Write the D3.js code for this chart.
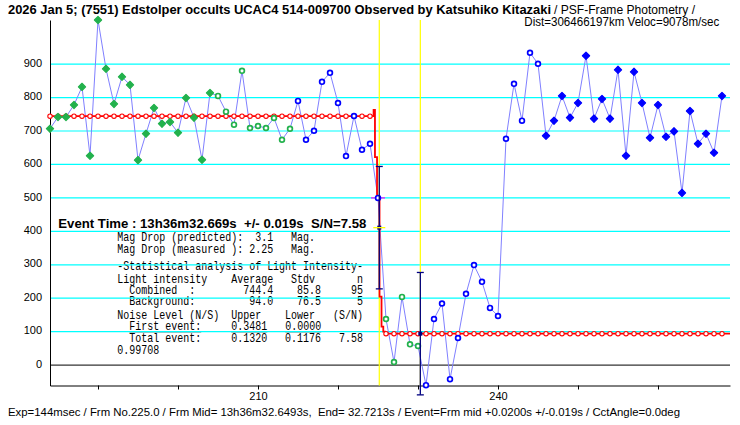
<!DOCTYPE html>
<html>
<head>
<meta charset="utf-8">
<script src="https://cdn.jsdelivr.net/npm/d3@7"></script>
<style>
  body { margin: 0; background: #fff; }
  text { white-space: pre; }
</style>
</head>
<body>
<script>
// light curve, one value per frame starting at firstFrame
const firstFrame = 184;
const flux = [707, 742, 742, 778, 832, 626, 1032, 886, 781, 862,
              838, 613, 692, 769, 722, 727, 695, 799, 740, 614,
              814, 805, 758, 719, 880, 709, 715, 709, 739, 674,
              707, 790, 674, 701, 847, 874, 784, 625, 745, 644,
              662, 500, 138, 9, 204, 62, 57, -60, 138, 184,
              -42, 81, 213, 299, 249, 171, 147, 677, 841, 731,
              934, 901, 686, 731, 805, 740, 784, 925, 737, 796,
              737, 883, 626, 877, 784, 680, 778, 683, 699, 515,
              760, 662, 692, 635, 805];

// point groups: [first index, last index, kind]
const pointGroups = [[0, 20, "g1"], [21, 30, "g0"], [31, 41, "b0"],
                     [42, 46, "g0"], [47, 61, "b0"], [62, 84, "b1"]];

// fitted model (step curve)
const modelFrames = [184, 224.41, 224.45, 224.62, 224.88, 225.19, 225.44, 225.66, 225.87, 269];
const modelValues = [744.4, 744.4, 763, 622, 504, 205, 115, 100, 94.0, 94.0];
const highLevel = 744.4, lowLevel = 94.0, midFrame = 225, midLevel = 500;

// event markers
const eventFrames = [225.16, 230.29];
const eventLevels = [411, 94.0];
const eventErr = [183, 183];

const gridValues = [100, 200, 300, 400, 500, 600, 700, 800, 900];
const yTickValues = [0, 100, 200, 300, 400, 500, 600, 700, 800, 900];
const xTickValues = [190, 200, 210, 220, 230, 240, 250, 260];
const xTickLabels = [210, 240];

const titleBold = "2026 Jan 5; (7551) Edstolper occults UCAC4 514-009700 Observed by Katsuhiko Kitazaki";
const titleRest = "/ PSF-Frame Photometry /";
const titleLine2 = "Dist=306466197km Veloc=9078m/sec";
const footer = "Exp=144msec / Frm No.225.0 / Frm Mid= 13h36m32.6493s,  End= 32.7213s / Event=Frm mid +0.0200s +/-0.019s / CctAngle=0.0deg";
const eventLine = "Event Time : 13h36m32.669s  +/- 0.019s  S/N=7.58";
const infoLines = [
  "Mag Drop (predicted):  3.1   Mag.",
  "Mag Drop (measured ): 2.25   Mag.",
  "-Statistical analysis of Light Intensity-",
  "Light intensity    Average   Stdv       n",
  "  Combined  :        744.4    85.8     95",
  "  Background:         94.0    76.5      5",
  "Noise Level (N/S)  Upper    Lower   (S/N)",
  null,
  "  Total event:     0.1320   0.1176   7.58",
  "0.99708"
];
const firstEventFields = [[2, "First event:"], [19, "0.3481"], [28, "0.0000"]];

const W = 740, H = 425;
const svg = d3.select("body").append("svg")
    .attr("width", W)
    .attr("height", H)
    .style("background", "#fff");

const x = d3.scaleLinear().domain([184, 269]).range([50, 730]);
const y = d3.scaleLinear().domain([-61, 1032]).range([385.5, 20]);

// title
svg.append("text").text(titleBold)
    .attr("x", 8).attr("y", 13.5)
    .attr("textLength", 543).attr("lengthAdjust", "spacingAndGlyphs")
    .style("font-family", "Liberation Sans").style("font-weight", "bold").style("font-size", "12.5px");
svg.append("text").text(titleRest)
    .attr("x", 554).attr("y", 13.5)
    .attr("textLength", 141).attr("lengthAdjust", "spacingAndGlyphs")
    .style("font-family", "Liberation Sans").style("font-size", "12px");
svg.append("text").text(titleLine2)
    .attr("x", 524.3).attr("y", 26)
    .attr("textLength", 195).attr("lengthAdjust", "spacingAndGlyphs")
    .style("font-family", "Liberation Sans").style("font-size", "12px");

// info box (drawn before grid, grid crosses it)
svg.append("text").text(eventLine)
    .attr("x", 58.3).attr("y", 228.3)
    .attr("textLength", 308).attr("lengthAdjust", "spacingAndGlyphs")
    .style("font-family", "Liberation Sans").style("font-weight", "bold").style("font-size", "12px");

const infoY = [241, 252.7, 270, 283, 294, 305.3, 319.3, 330, 342.3, 354];
const mono = svg.append("g")
    .attr("transform", "translate(117.3,0) scale(0.8333,1)")
    .style("font-family", "Liberation Mono").style("font-size", "12px");
infoLines.forEach((s, i) => {
  if (s === null) return;
  mono.append("text").attr("x", 0).attr("y", infoY[i]).attr("xml:space", "preserve").text(s);
});
firstEventFields.forEach(d => {
  mono.append("text").attr("x", d[0] * 7.2).attr("y", infoY[7])
      .style("text-decoration", "underline").text(d[1]);
});

// grid
svg.append("g").selectAll("line").data(gridValues).join("line")
    .attr("x1", 50).attr("x2", 730)
    .attr("y1", d => y(d)).attr("y2", d => y(d))
    .style("stroke", "#00ffff").style("stroke-width", 1.2);
svg.append("line")
    .attr("x1", 50).attr("x2", 730).attr("y1", y(0)).attr("y2", y(0))
    .style("stroke", "#000").style("stroke-width", 1);

// axes
const yAxis = svg.append("g").attr("transform", "translate(50,0)")
    .call(d3.axisLeft(y).tickValues(yTickValues).tickSize(0).tickSizeOuter(0).tickPadding(8));
yAxis.selectAll("text").attr("dy", "0.2em")
    .style("font-family", "Liberation Sans").style("font-size", "11px").style("fill", "#000");
yAxis.select(".domain").style("stroke", "#000");

const xAxis = svg.append("g").attr("transform", "translate(0,385.5)")
    .call(d3.axisBottom(x).tickValues(xTickValues).tickSize(4).tickSizeOuter(0).tickPadding(3)
      .tickFormat(d => xTickLabels.includes(d) ? d : ""));
xAxis.selectAll("text")
    .style("font-family", "Liberation Sans").style("font-size", "11px").style("fill", "#000");

// yellow event lines
svg.append("g").selectAll("line").data(eventFrames).join("line")
    .attr("x1", d => x(d)).attr("x2", d => x(d))
    .attr("y1", 20).attr("y2", 385.5)
    .style("stroke", "#ffff00").style("stroke-width", 1.2);

// data line
const pts = flux.map((v, i) => ({ f: firstFrame + i, v: v, i: i }));
svg.append("path").datum(pts)
    .attr("d", d3.line().x(d => x(d.f)).y(d => y(d.v)))
    .style("fill", "none").style("stroke", "#8080ff").style("stroke-width", 1);

// model line
const model = modelFrames.map((f, i) => ({ f: f, v: modelValues[i] }));
svg.append("path").datum(model)
    .attr("d", d3.line().curve(d3.curveStepAfter).x(d => x(d.f)).y(d => y(d.v)))
    .style("fill", "none").style("stroke", "#ff0000").style("stroke-width", 1.8);

const modelAt = f => f < midFrame ? highLevel : (f === midFrame ? midLevel : lowLevel);
svg.append("g").selectAll("circle").data(pts).join("circle")
    .attr("cx", d => x(d.f)).attr("cy", d => y(modelAt(d.f)))
    .attr("r", 2.2)
    .style("fill", "#fff").style("stroke", "#ff0000").style("stroke-width", 1.1);

// half-level marker
svg.append("line")
    .attr("x1", x(midFrame) - 7).attr("x2", x(midFrame) + 7)
    .attr("y1", y(midLevel)).attr("y2", y(midLevel))
    .style("stroke", "#ff00ff").style("stroke-width", 1.2);

// data markers
const kindOf = i => pointGroups.find(g => i >= g[0] && i <= g[1])[2];
const diamond = "M0,-3.6L3.6,0L0,3.6L-3.6,0Z";
const markers = svg.append("g");
pts.forEach(d => {
  const k = kindOf(d.i);
  const col = k[0] === "g" ? "#22b14c" : "#0000ff";
  if (k[1] === "1") {
    markers.append("path").attr("d", diamond)
        .attr("transform", `translate(${x(d.f)},${y(d.v)})`)
        .style("fill", col).style("stroke", col).style("stroke-width", 1.2)
        .style("stroke-linejoin", "round");
  } else {
    markers.append("circle").attr("cx", x(d.f)).attr("cy", y(d.v)).attr("r", 2.4)
        .style("fill", "#fff").style("stroke", col).style("stroke-width", 1.7);
  }
});

// event error bars
const bars = svg.append("g").style("stroke", "#000080").style("stroke-width", 1.3);
eventFrames.forEach((f, i) => {
  const cx = x(f), top = y(eventLevels[i] + eventErr[i]), bot = y(eventLevels[i] - eventErr[i]);
  bars.append("line").attr("x1", cx).attr("x2", cx).attr("y1", top).attr("y2", bot);
  bars.append("line").attr("x1", cx - 3.5).attr("x2", cx + 3.5).attr("y1", top).attr("y2", top);
  bars.append("line").attr("x1", cx - 3.5).attr("x2", cx + 3.5).attr("y1", bot).attr("y2", bot);
  svg.append("rect").attr("x", cx - 2).attr("y", y(eventLevels[i]) - 2)
      .attr("width", 4).attr("height", 4).style("fill", "#000080");
});
svg.append("line")
    .attr("x1", x(eventFrames[0]) - 6).attr("x2", x(eventFrames[0]) + 6)
    .attr("y1", y(eventLevels[0])).attr("y2", y(eventLevels[0]))
    .style("stroke", "#ffff00").style("stroke-width", 1.3);

// footer
svg.append("text").text(footer)
    .attr("x", 8).attr("y", 416)
    .attr("textLength", 672).attr("lengthAdjust", "spacingAndGlyphs")
    .style("font-family", "Liberation Sans").style("font-size", "11.5px");
</script>
</body>
</html>
